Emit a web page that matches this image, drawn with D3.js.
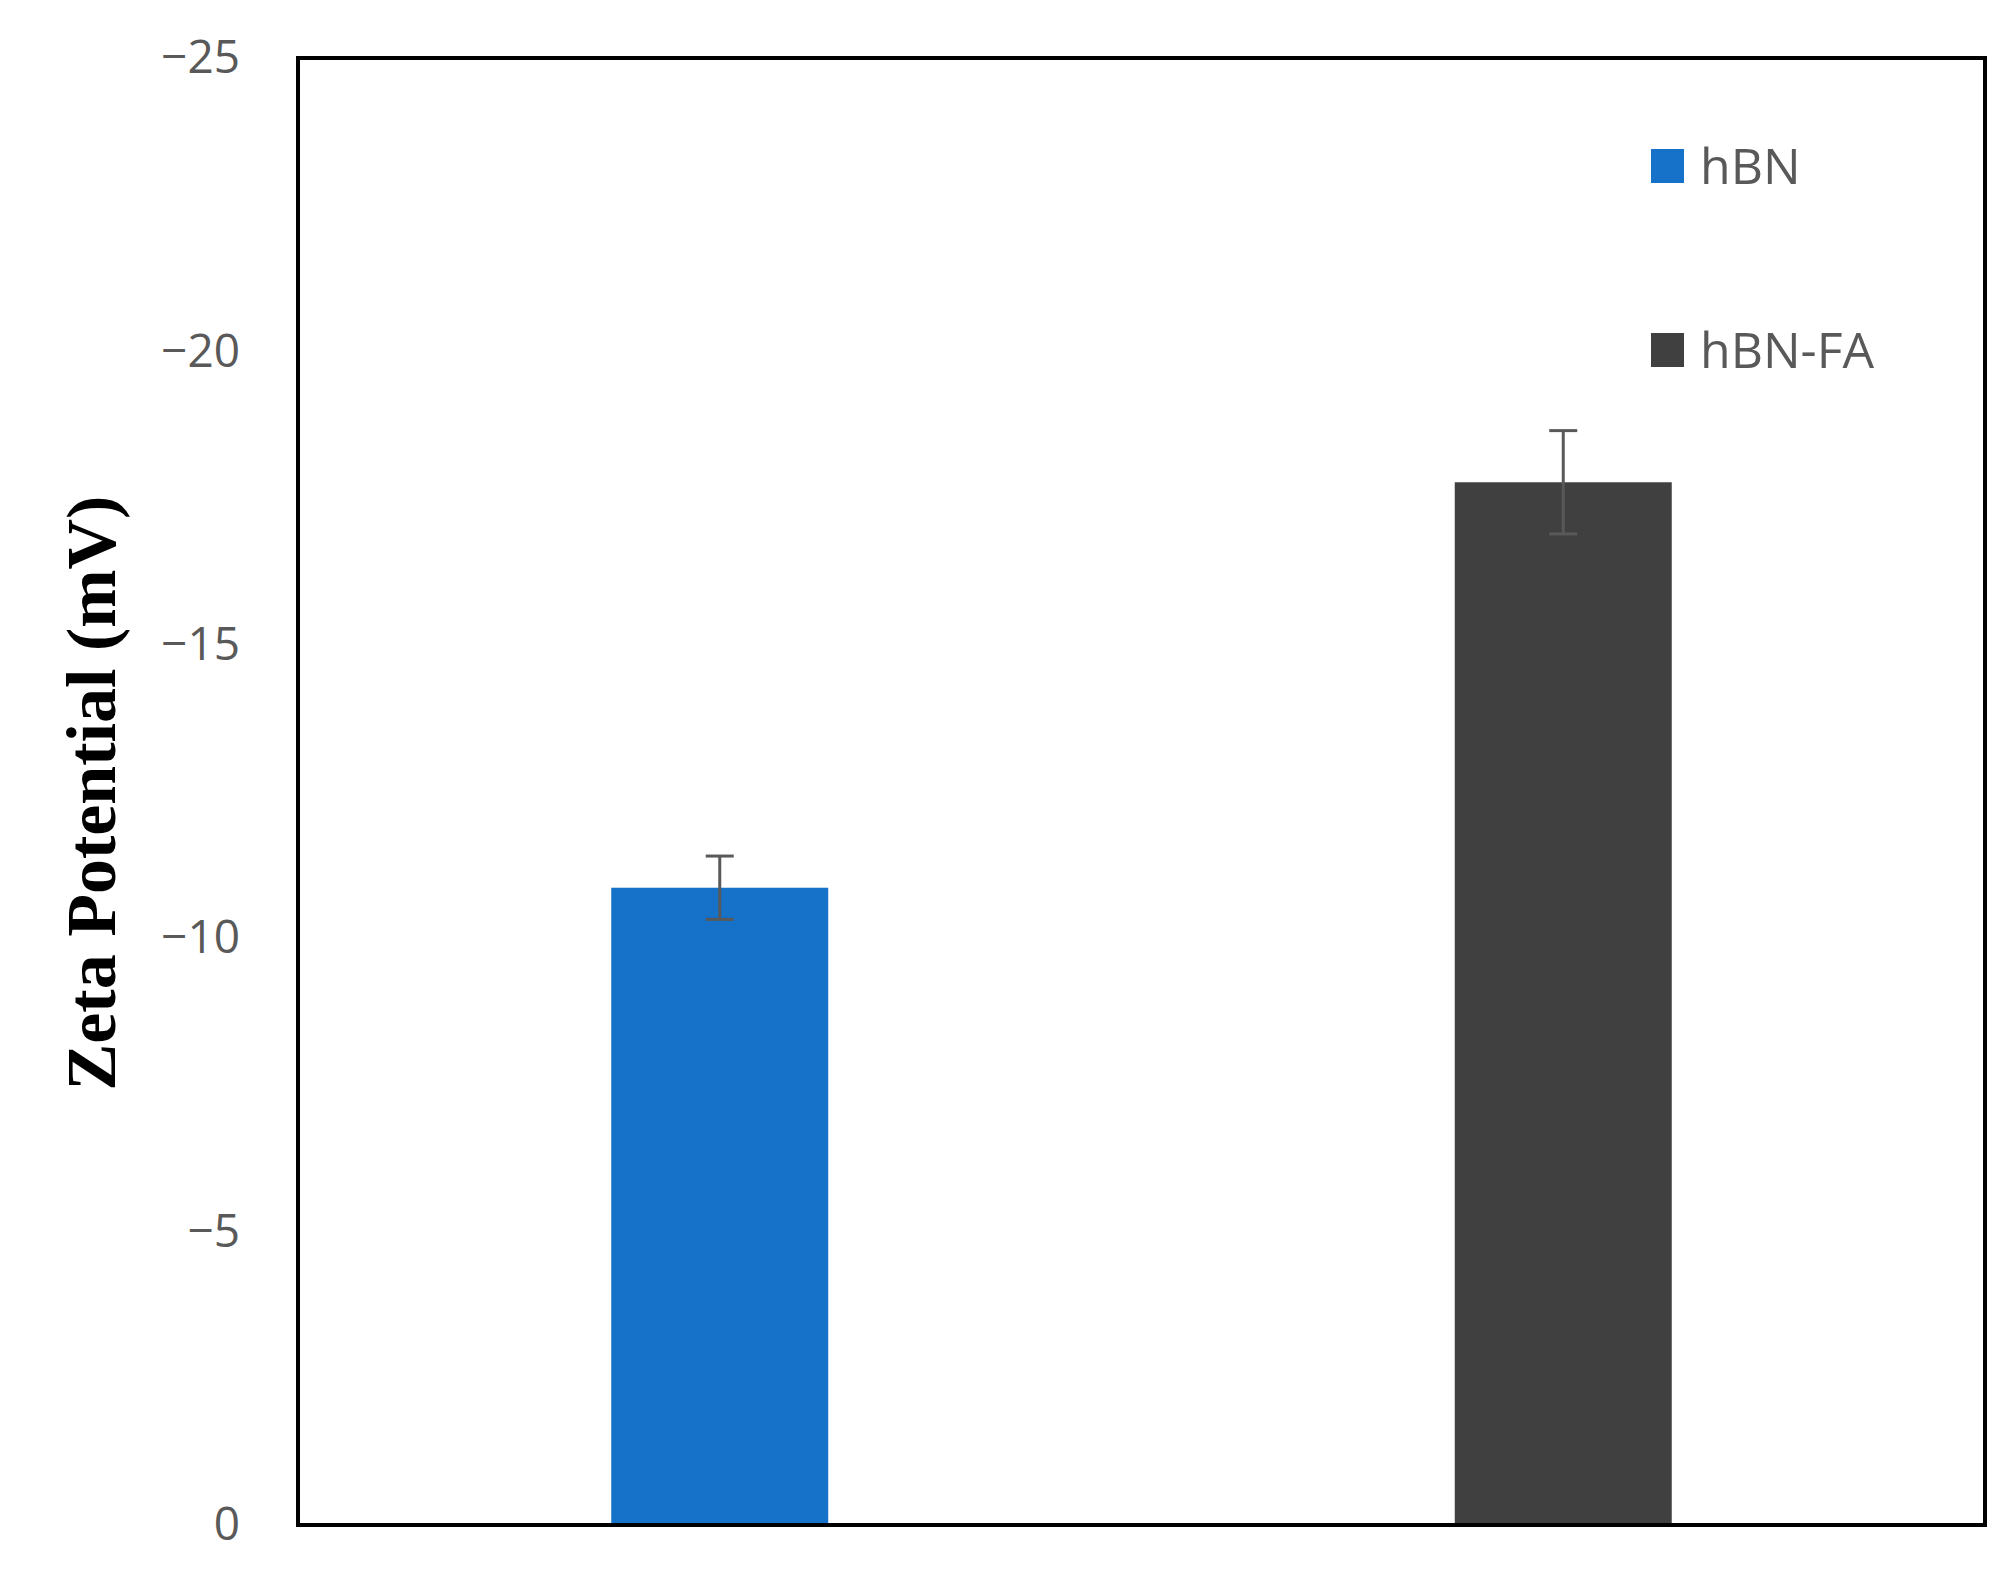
<!DOCTYPE html>
<html><head><meta charset="utf-8">
<script src="https://cdn.jsdelivr.net/npm/d3@7"></script>
<style>body{margin:0;background:#fff}</style></head>
<body><svg id="c" width="2011" height="1573"></svg>
<script>
const categories = ["hBN", "hBN-FA"];
const values = [-10.86, -17.77];
const errors = [0.54, 0.88];
const colors = ["#1572C8", "#404040"];
const yTicks = [0, -5, -10, -15, -20, -25];

const svg = d3.select("#c");
const L = 298, R = 1985, T = 58, B = 1525;
const x = d3.scaleBand().domain(categories).range([L, R]);
const y = d3.scaleLinear().domain([0, -25]).range([B, T]);
const bw = 217;

svg.selectAll("rect.bar").data(categories).enter().append("rect")
  .attr("x", d => x(d) + x.bandwidth()/2 - bw/2)
  .attr("width", bw)
  .attr("y", (d,i) => y(values[i]))
  .attr("height", (d,i) => B - y(values[i]))
  .attr("fill", (d,i) => colors[i]);

const eb = svg.append("g").attr("stroke", "#595959").attr("stroke-width", 3);
categories.forEach((c, i) => {
  const cx = x(c) + x.bandwidth()/2;
  const y1 = y(values[i] - errors[i]), y2 = y(values[i] + errors[i]);
  eb.append("line").attr("x1", cx).attr("x2", cx).attr("y1", y1).attr("y2", y2);
  eb.append("line").attr("x1", cx-14).attr("x2", cx+14).attr("y1", y1).attr("y2", y1);
  eb.append("line").attr("x1", cx-14).attr("x2", cx+14).attr("y1", y2).attr("y2", y2);
});

const ax = svg.append("g").attr("transform", `translate(${L},0)`)
  .call(d3.axisLeft(y).tickValues(yTicks).tickSize(0).tickPadding(58)
    .tickFormat(d => d === 0 ? "0" : "\u2212" + Math.abs(d)));
ax.select(".domain").remove();
ax.selectAll("text").attr("font-family", "Open Sans, sans-serif").attr("font-size", 46).attr("fill", "#595959");

svg.append("rect").attr("x", L).attr("y", T).attr("width", R-L).attr("height", B-T)
  .attr("fill", "none").attr("stroke", "#000").attr("stroke-width", 4);

svg.append("text").attr("transform", `translate(115,${(432+1154)/2}) rotate(-90)`)
  .attr("text-anchor", "middle").attr("font-family", "Liberation Serif, serif")
  .attr("font-weight", "bold").attr("font-size", 70).attr("fill", "#000")
  .text("Zeta Potential (mV)");

const legY = [166, 350];
categories.forEach((c, i) => {
  svg.append("rect").attr("x", 1651).attr("y", legY[i]-17).attr("width", 33).attr("height", 34).attr("fill", colors[i]);
  svg.append("text").attr("x", 1700).attr("y", legY[i]+18).attr("font-family", "Open Sans, sans-serif")
    .attr("font-size", 50).attr("fill", "#595959").text(c);
});
</script></body></html>
